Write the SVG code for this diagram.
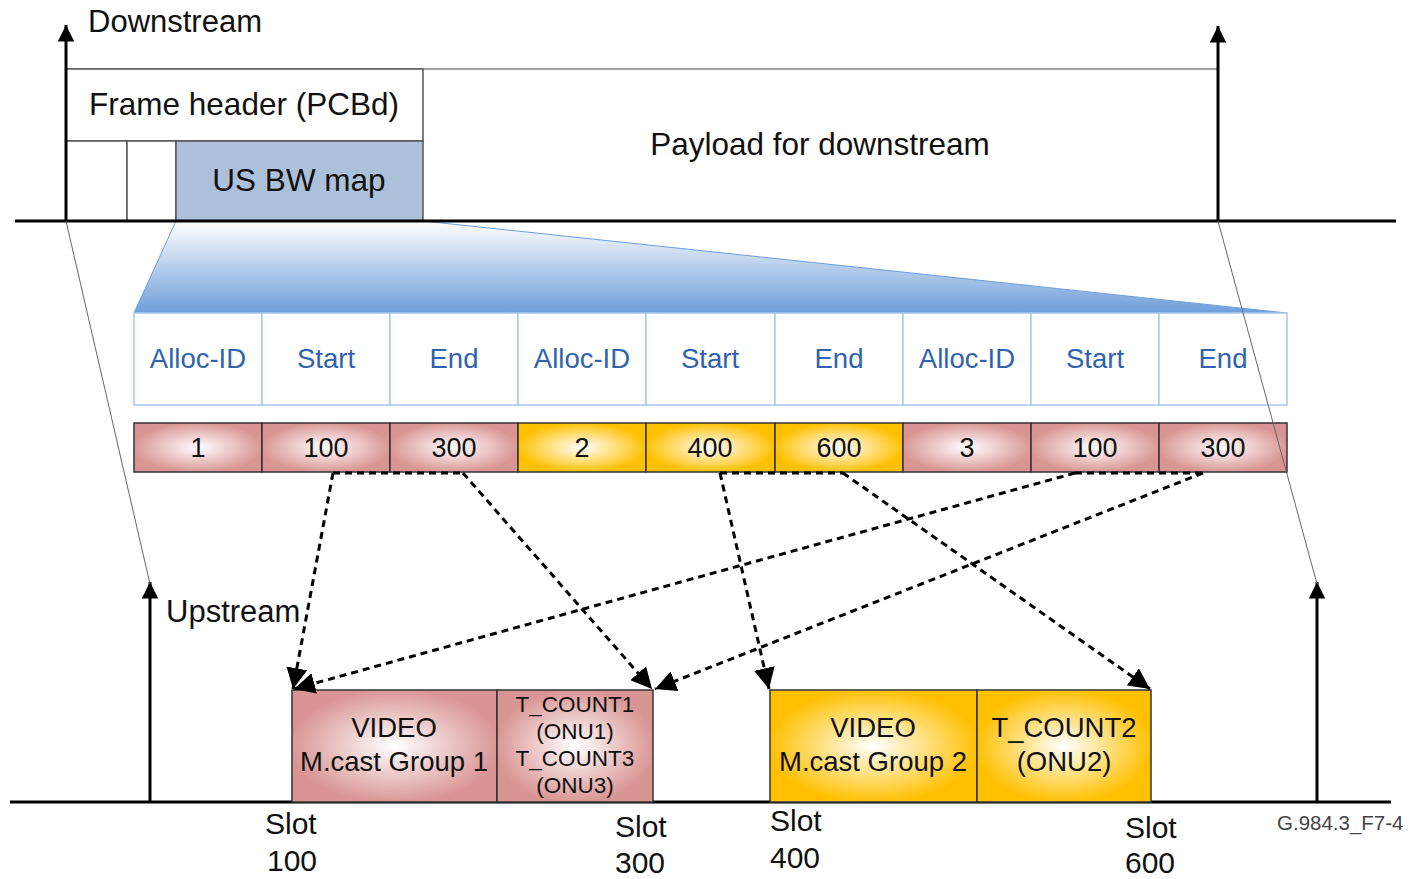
<svg xmlns="http://www.w3.org/2000/svg" width="1412" height="879" viewBox="0 0 1412 879">
<style>
text{font-family:"Liberation Sans",Arial,sans-serif;fill:#111}
.big{font-size:31.5px}
.lbl{font-size:31px}
.slot{font-size:30px}
.mid{font-size:27.5px}
.hdr{font-size:27.5px;fill:#2f63ae;text-anchor:middle}
.val{font-size:27px;text-anchor:middle}
.sm{font-size:22.5px;text-anchor:middle}
.c{text-anchor:middle}
.thin{stroke:#666;stroke-width:1;fill:none}
.axis{stroke:#000;stroke-width:3;fill:none}
.dash{stroke:#000;stroke-width:3;fill:none;stroke-dasharray:7 5}
.hcell{fill:#fff;stroke:#a9c6ee;stroke-width:1.5}
.pink{fill:url(#gp);stroke:#333;stroke-width:1.5}
.yel{fill:url(#gy);stroke:#333;stroke-width:1.5}
</style>
<defs>
<marker id="ah" viewBox="0 0 10 10" refX="10" refY="5" markerWidth="7" markerHeight="7" markerUnits="strokeWidth" orient="auto"><path d="M0,0 L10,5 L0,10 z" fill="#000"/></marker>
<marker id="axh" viewBox="0 0 10 10" refX="10" refY="5" markerWidth="7.5" markerHeight="5.5" markerUnits="strokeWidth" orient="auto"><path d="M0,0 L10,5 L0,10 z" fill="#000"/></marker>
<linearGradient id="gb" x1="0" y1="0" x2="0" y2="1"><stop offset="0" stop-color="#ffffff"/><stop offset="1" stop-color="#6e9edb"/></linearGradient>
<radialGradient id="gp" cx="0.5" cy="0.5" r="0.6"><stop offset="0" stop-color="#ffffff"/><stop offset="0.85" stop-color="#d99593"/></radialGradient>
<radialGradient id="gy" cx="0.5" cy="0.5" r="0.6"><stop offset="0" stop-color="#ffffff"/><stop offset="0.85" stop-color="#ffc000"/></radialGradient>
</defs>

<g id="downstream-frame">
<rect x="66" y="69" width="1152" height="152" fill="#fff" stroke="#888" stroke-width="1.5"/>
<rect x="66" y="69" width="357" height="72" fill="#fff" stroke="#555" stroke-width="1.5"/>
<rect x="66" y="141" width="61" height="80" fill="#fff" stroke="#555" stroke-width="1.5"/>
<rect x="127" y="141" width="49" height="80" fill="#fff" stroke="#555" stroke-width="1.5"/>
<rect x="176" y="141" width="247" height="80" fill="#adc0da" stroke="#555" stroke-width="1.5"/>
<text x="244" y="115" class="big c">Frame header (PCBd)</text>
<text x="299" y="191" class="big c">US BW map</text>
<text x="820" y="155" class="big c">Payload for downstream</text>
</g>

<g id="zoom">
<polygon points="176,221 423,221 1287,313 134,313" fill="url(#gb)"/>
<line x1="423" y1="221" x2="1287" y2="313" stroke="#6e9edb" stroke-width="1"/>
<line x1="176" y1="221" x2="134" y2="313" stroke="#6e9edb" stroke-width="1"/>
</g>

<g id="header-row">
<rect x="134" y="313" width="128" height="92" class="hcell"/>
<rect x="262" y="313" width="128" height="92" class="hcell"/>
<rect x="390" y="313" width="128" height="92" class="hcell"/>
<rect x="518" y="313" width="128" height="92" class="hcell"/>
<rect x="646" y="313" width="129" height="92" class="hcell"/>
<rect x="775" y="313" width="128" height="92" class="hcell"/>
<rect x="903" y="313" width="128" height="92" class="hcell"/>
<rect x="1031" y="313" width="128" height="92" class="hcell"/>
<rect x="1159" y="313" width="128" height="92" class="hcell"/>
<text x="198" y="368" class="hdr">Alloc-ID</text>
<text x="326" y="368" class="hdr">Start</text>
<text x="454" y="368" class="hdr">End</text>
<text x="582" y="368" class="hdr">Alloc-ID</text>
<text x="710" y="368" class="hdr">Start</text>
<text x="839" y="368" class="hdr">End</text>
<text x="967" y="368" class="hdr">Alloc-ID</text>
<text x="1095" y="368" class="hdr">Start</text>
<text x="1223" y="368" class="hdr">End</text>
</g>

<g id="value-row">
<rect x="134" y="423" width="128" height="49" class="pink"/>
<rect x="262" y="423" width="128" height="49" class="pink"/>
<rect x="390" y="423" width="128" height="49" class="pink"/>
<rect x="518" y="423" width="128" height="49" class="yel"/>
<rect x="646" y="423" width="129" height="49" class="yel"/>
<rect x="775" y="423" width="128" height="49" class="yel"/>
<rect x="903" y="423" width="128" height="49" class="pink"/>
<rect x="1031" y="423" width="128" height="49" class="pink"/>
<rect x="1159" y="423" width="128" height="49" class="pink"/>
<text x="198" y="457" class="val">1</text>
<text x="326" y="457" class="val">100</text>
<text x="454" y="457" class="val">300</text>
<text x="582" y="457" class="val">2</text>
<text x="710" y="457" class="val">400</text>
<text x="839" y="457" class="val">600</text>
<text x="967" y="457" class="val">3</text>
<text x="1095" y="457" class="val">100</text>
<text x="1223" y="457" class="val">300</text>
</g>

<g id="axes">
<line x1="15" y1="221" x2="1396" y2="221" class="axis"/>
<line x1="66" y1="221" x2="66" y2="25" class="axis" marker-end="url(#axh)"/>
<line x1="1218" y1="221" x2="1218" y2="26" class="axis" marker-end="url(#axh)"/>
<text x="88" y="32" class="lbl">Downstream</text>
<line x1="10" y1="802" x2="1391" y2="802" class="axis"/>
<line x1="150" y1="802" x2="150" y2="582" class="axis" marker-end="url(#axh)"/>
<line x1="1317" y1="802" x2="1317" y2="582" class="axis" marker-end="url(#axh)"/>
<text x="166" y="622" class="lbl">Upstream</text>
<line x1="66" y1="221" x2="150" y2="584" class="thin"/>
<line x1="1218" y1="221" x2="1317" y2="584" class="thin"/>
</g>

<g id="upstream-slots">
<g id="video1">
<rect x="292" y="690" width="205" height="112" class="pink"/>
<text x="394" y="737" class="mid c">VIDEO</text>
<text x="394" y="771" class="mid c">M.cast Group 1</text>
</g>
<g id="tcount13">
<rect x="497" y="690" width="156" height="112" class="pink"/>
<text x="575" y="712" class="sm">T_COUNT1</text>
<text x="575" y="739" class="sm">(ONU1)</text>
<text x="575" y="766" class="sm">T_COUNT3</text>
<text x="575" y="793" class="sm">(ONU3)</text>
</g>
<g id="video2">
<rect x="770" y="690" width="207" height="112" class="yel"/>
<text x="873" y="737" class="mid c">VIDEO</text>
<text x="873" y="771" class="mid c">M.cast Group 2</text>
</g>
<g id="tcount2">
<rect x="977" y="690" width="174" height="112" class="yel"/>
<text x="1064" y="737" class="mid c">T_COUNT2</text>
<text x="1064" y="771" class="mid c">(ONU2)</text>
</g>
</g>

<g id="connectors">
<line x1="333" y1="473" x2="463" y2="473" class="dash"/>
<line x1="720" y1="473" x2="843" y2="473" class="dash"/>
<line x1="1075" y1="473" x2="1203" y2="473" class="dash"/>
<line x1="333" y1="473" x2="293" y2="689" class="dash" marker-end="url(#ah)"/>
<line x1="463" y1="473" x2="652" y2="689" class="dash" marker-end="url(#ah)"/>
<line x1="720" y1="473" x2="769" y2="689" class="dash" marker-end="url(#ah)"/>
<line x1="843" y1="473" x2="1150" y2="689" class="dash" marker-end="url(#ah)"/>
<line x1="1075" y1="473" x2="294" y2="689" class="dash" marker-end="url(#ah)"/>
<line x1="1203" y1="473" x2="655" y2="689" class="dash" marker-end="url(#ah)"/>
</g>

<g id="slot-labels">
<text x="265" y="834" class="slot">Slot</text>
<text x="267" y="871" class="slot">100</text>
<text x="615" y="837" class="slot">Slot</text>
<text x="615" y="873" class="slot">300</text>
<text x="770" y="831" class="slot">Slot</text>
<text x="770" y="868" class="slot">400</text>
<text x="1125" y="838" class="slot">Slot</text>
<text x="1125" y="873" class="slot">600</text>
<text x="1277" y="830" font-size="20.5" style="fill:#444">G.984.3_F7-4</text>
</g>
</svg>
